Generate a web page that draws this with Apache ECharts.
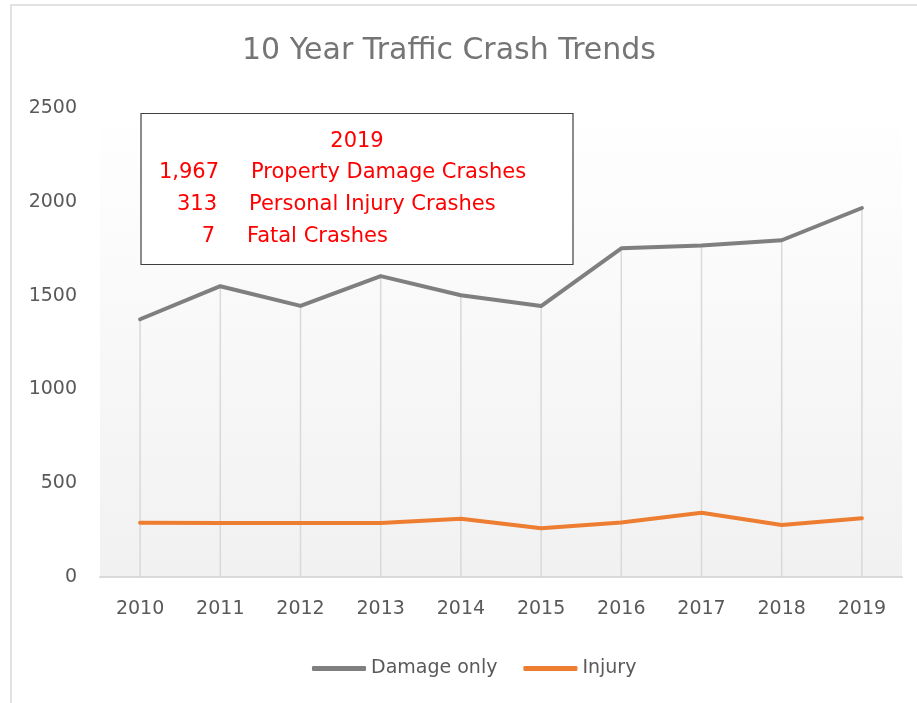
<!DOCTYPE html>
<html>
<head>
<meta charset="utf-8">
<style>
  html, body { margin: 0; padding: 0; background: #fff; }
  #chart { width: 917px; height: 703px; }
</style>
<script src="https://cdn.jsdelivr.net/npm/echarts@6/dist/echarts.min.js"></script>
</head>
<body>
<div id="chart"></div>
<script>
const years = ['2010', '2011', '2012', '2013', '2014', '2015', '2016', '2017', '2018', '2019']
const damageOnly = [1374, 1550, 1445, 1604, 1502, 1444, 1752, 1767, 1795, 1967]
const injury = [289, 288, 288, 288, 310, 260, 290, 342, 277, 313]
const fatal2019 = 7
const boxLabels = ['Property Damage Crashes', 'Personal Injury Crashes', 'Fatal Crashes']
const yTicks = { min: 0, max: 2500, interval: 500 }

const font = 'DejaVu Sans'
const fmt = (v) => v.toLocaleString('en-US')

const boxValues = [damageOnly[damageOnly.length - 1], injury[injury.length - 1], fatal2019]
const boxText = {
    fontFamily: font,
    fontSize: 21,
    fontWeight: 'normal',
    color: '#ff0000',
    lineHeight: 32,
}

// summary box: one title per text piece so the columns line up
const boxTitles = [
    {
        text: years[years.length - 1],
        left: 357,
        top: 126,
        padding: 0,
        textAlign: 'center',
        z: 12,
        textStyle: boxText,
    },
]
boxValues.forEach((v, i) => {
    const top = 157 + i * 32
    boxTitles.push({
        text: fmt(v),
        left: 219 - i * 2,
        top,
        padding: 0,
        textAlign: 'right',
        z: 12,
        textStyle: boxText,
    })
    boxTitles.push({
        text: boxLabels[i],
        left: 251 - i * 2,
        top,
        padding: 0,
        textAlign: 'left',
        z: 12,
        textStyle: boxText,
    })
})

const chart = echarts.init(document.getElementById('chart'))

chart.setOption({
    animation: false,
    title: [
        {
            text: '10 Year Traffic Crash Trends',
            left: 449,
            top: 36,
            padding: 0,
            textAlign: 'center',
            textStyle: {
                fontFamily: font,
                fontSize: 30,
                fontWeight: 'normal',
                color: '#757575',
            },
        },
        ...boxTitles,
    ],
    graphic: [
        {
            type: 'rect',
            shape: { x: 11, y: 5, width: 1000, height: 1000 },
            style: { fill: 'none', stroke: '#d9d9d9', lineWidth: 1.5 },
            silent: true,
        },
        {
            type: 'rect',
            z: 10,
            shape: { x: 141, y: 113.5, width: 432, height: 151 },
            style: { fill: '#ffffff', stroke: '#404040', lineWidth: 1.2 },
            silent: true,
        },
    ],
    legend: {
        data: ['Damage only', 'Injury'],
        left: 312,
        top: 659,
        padding: 0,
        itemWidth: 54,
        itemHeight: 5,
        itemGap: 26,
        icon: 'roundRect',
        textStyle: {
            fontFamily: font,
            fontSize: 19,
            color: '#595959',
        },
    },
    grid: {
        left: 100,
        right: 15,
        top: 108,
        bottom: 126,
        show: true,
        borderWidth: 0,
        backgroundColor: new echarts.graphic.LinearGradient(0, 0, 0, 1, [
            { offset: 0, color: '#ffffff' },
            { offset: 1, color: '#f1f1f1' },
        ]),
    },
    xAxis: {
        type: 'category',
        data: years,
        boundaryGap: true,
        axisLine: {
            lineStyle: {
                color: '#d9d9d9',
                width: 2,
            },
        },
        axisTick: { show: false },
        splitLine: { show: false },
        axisLabel: {
            color: '#595959',
            fontFamily: font,
            fontSize: 19,
            margin: 23,
        },
    },
    yAxis: {
        type: 'value',
        min: yTicks.min,
        max: yTicks.max,
        interval: yTicks.interval,
        axisLine: { show: false },
        axisTick: { show: false },
        splitLine: { show: false },
        axisLabel: {
            color: '#595959',
            fontFamily: font,
            fontSize: 19,
            margin: 23,
            formatter: (v) => String(v),
        },
    },
    series: [
        {
            // Excel-style drop lines from the top series down to the axis
            name: 'drop lines',
            type: 'bar',
            data: damageOnly,
            barWidth: 1.5,
            silent: true,
            z: 1,
            itemStyle: { color: '#d9d9d9' },
        },
        {
            name: 'Damage only',
            type: 'line',
            data: damageOnly,
            showSymbol: false,
            z: 3,
            lineStyle: { color: '#7f7f7f', width: 4, cap: 'round', join: 'round' },
            itemStyle: { color: '#7f7f7f' },
        },
        {
            name: 'Injury',
            type: 'line',
            data: injury,
            showSymbol: false,
            z: 3,
            lineStyle: { color: '#ed7d31', width: 4, cap: 'round', join: 'round' },
            itemStyle: { color: '#ed7d31' },
        },
    ],
})
</script>
</body>
</html>
